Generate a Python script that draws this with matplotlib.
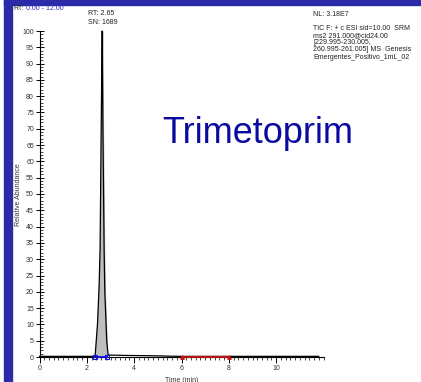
import matplotlib
matplotlib.use("Agg")
import matplotlib.pyplot as plt
from matplotlib.patches import Rectangle
from matplotlib.ticker import MultipleLocator

plt.rcParams['font.family'] = ['Liberation Sans', 'DejaVu Sans']

# ---- data ----
times = [0.0, 0.5, 1.0, 1.5, 2.0, 2.3, 2.35, 2.45, 2.52, 2.56, 2.62, 2.65,
         2.68, 2.73, 2.76, 2.84, 2.9, 3.5, 4.0, 4.5, 5.0, 5.5, 6.0, 7.0,
         8.0, 9.0, 10.0, 11.0, 11.8]
intensity = [0.2, 0.2, 0.2, 0.2, 0.2, 0.2, 0.3, 10, 22, 33, 80, 100,
             70, 33, 20, 5, 0.6, 0.5, 0.45, 0.4, 0.35, 0.25, 0.2, 0.2,
             0.2, 0.2, 0.2, 0.2, 0.2]
peak_bounds = [2.35, 2.86]
noise_bounds = [6.0, 8.0]
peak_rt = "2.65"
peak_sn = "1689"
x_ticks = [0, 2, 4, 6, 8, 10]
y_ticks = list(range(0, 101, 5))
compound = "Trimetoprim"
header_lines = ["TIC F: + c ESI sid=10.00  SRM",
                "ms2 291.000@cid24.00",
                "[229.995-230.005,",
                "260.995-261.005] MS  Genesis",
                "Emergentes_Positivo_1mL_02"]

W, H = 421, 382
fig = plt.figure(figsize=(W / 100, H / 100), dpi=100)

def fx(px):
    return px / W

def fy(py):
    return 1 - py / H

# slide frame
frame_col = '#2B2BAA'
fig.patches.append(Rectangle((fx(4), 0), fx(8), 1, transform=fig.transFigure,
                             color=frame_col, zorder=0))
fig.patches.append(Rectangle((fx(4), fy(4.5)), 1, fy(0) - fy(4.5), transform=fig.transFigure,
                             color=frame_col, zorder=0))

ax = fig.add_axes([fx(39.5), fy(357), fx(323.5) - fx(39.5), fy(31) - fy(357)])
ax.set_xlim(0, 12)
ax.set_ylim(0, 100)

# fill peak area
pt = [t for t in times if peak_bounds[0] <= t <= peak_bounds[1]]
pi = [v for t, v in zip(times, intensity) if peak_bounds[0] <= t <= peak_bounds[1]]
ax.fill_between(pt, pi, 0, color='#BEBEBE', zorder=1, clip_on=False)
ax.plot(times, intensity, color='black', lw=0.9, zorder=2, clip_on=False)

# peak boundaries (blue) and noise region (red)
ax.plot(peak_bounds, [0, 0], color='#1010E0', lw=1.3, marker='s', ms=2.2,
        mfc='none', mec='#1010E0', mew=0.8, zorder=3, clip_on=False)
ax.plot(noise_bounds, [0, 0], color='#D01010', lw=1.3, marker='^', ms=2.5,
        zorder=3, clip_on=False)

for s in ['top', 'right']:
    ax.spines[s].set_visible(False)
for s in ['left', 'bottom']:
    ax.spines[s].set_linewidth(0.8)

ax.set_xticks(x_ticks)
ax.set_xticklabels([str(v) for v in x_ticks])
ax.xaxis.set_minor_locator(MultipleLocator(0.2))
ax.set_yticks(y_ticks)
ax.set_yticklabels([str(v) for v in y_ticks])
ax.yaxis.set_minor_locator(MultipleLocator(1))
ax.tick_params(axis='x', which='major', direction='out', length=4, width=0.7,
               labelsize=5, pad=2, colors='black')
ax.tick_params(axis='x', which='minor', direction='out', length=2, width=0.5)
ax.tick_params(axis='y', which='major', direction='inout', length=6, width=0.7,
               labelsize=5, pad=1)
ax.tick_params(axis='y', which='minor', direction='in', length=2.5, width=0.5)
for lab in ax.get_xticklabels() + ax.get_yticklabels():
    lab.set_color('#333333')

ax.set_xlabel('Time (min)', fontsize=5, labelpad=3, color='#333333')
fig.text(fx(19), fy(195), 'Relative Abundance', rotation=90, fontsize=5,
         ha='center', va='center', color='#333333')

# annotations
fig.text(fx(13), fy(9), 'RT:', fontsize=5, ha='left', va='center', color='#222222')
fig.text(fx(26), fy(9), '0.00 - 12.00', fontsize=5, ha='left', va='center', color='#3030C0')
fig.text(fx(88), fy(13.5), 'RT: ' + peak_rt, fontsize=5, ha='left', va='center', color='#222222')
fig.text(fx(88), fy(22), 'SN: ' + peak_sn, fontsize=5, ha='left', va='center', color='#222222')

fig.text(fx(313), fy(14), 'NL: 3.18E7', fontsize=5, ha='left', va='center', color='#222222')
for i, line in enumerate(header_lines):
    fig.text(fx(313), fy(28 + i * 7.3), line, fontsize=5, ha='left', va='center',
             color='#222222')

fig.text(fx(162), fy(142.7), compound, fontsize=26, ha='left', va='baseline',
         color='#0A0AA0')

fig.savefig('out.png', dpi=100)
